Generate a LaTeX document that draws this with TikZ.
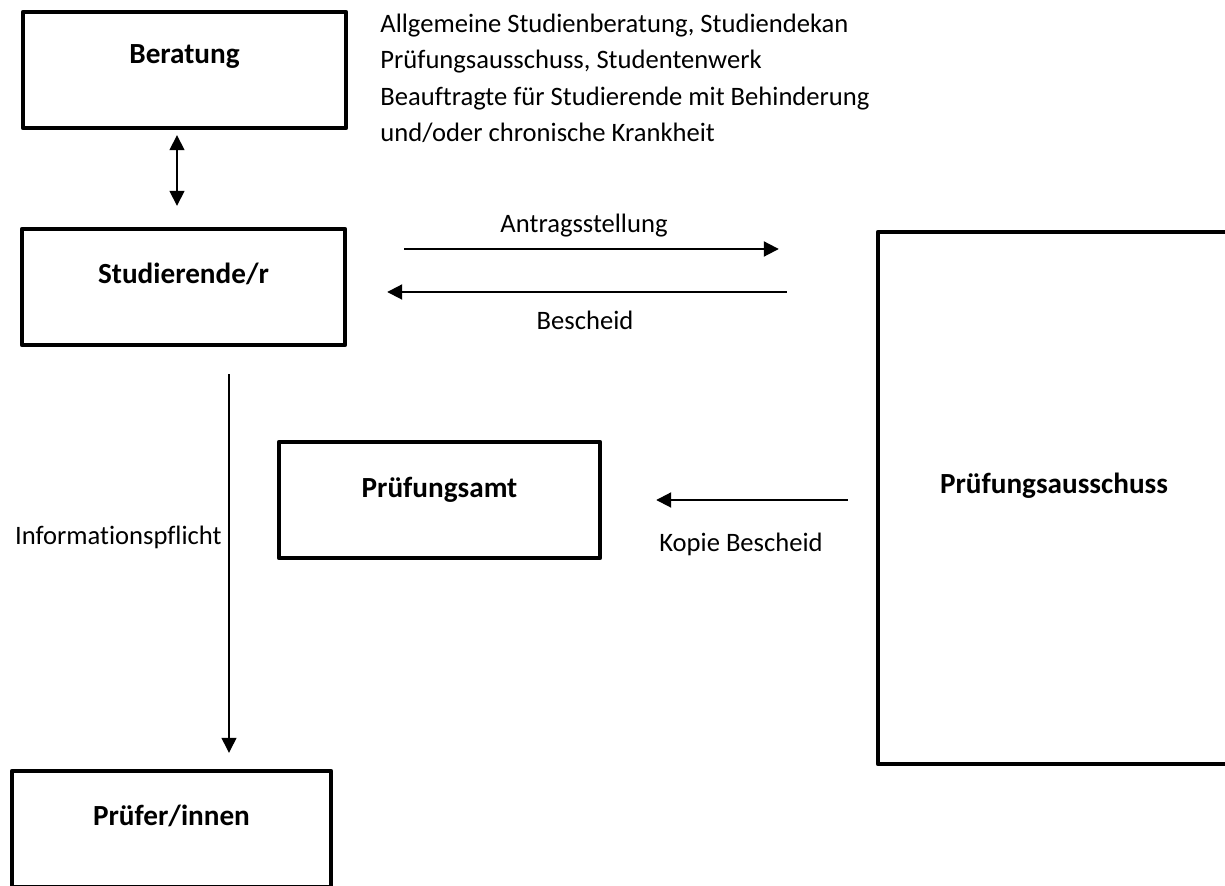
\documentclass[tikz,border=0pt]{standalone}
\usepackage{fontspec}
\setmainfont{Carlito}[Ligatures={NoCommon}]
\usetikzlibrary{arrows.meta, positioning, calc}

\tikzset{
  box/.style={draw, line width=2.2pt, line join=round, minimum height=58pt, inner sep=0pt,
    font=\fontsize{14.6}{17}\selectfont\bfseries},
  lbl/.style={font=\fontsize{13.3}{18.33}\selectfont, inner sep=0pt},
  arr/.style={-{Triangle[length=7.5pt,width=7.5pt]}, line width=1pt},
  dblarr/.style={{Triangle[length=7.5pt,width=7.5pt]}-{Triangle[length=7.5pt,width=7.5pt]}, line width=0.8pt},
}

\begin{document}
\begin{tikzpicture}[x=0.5pt, y=-0.5pt]
\useasboundingbox (0,0) rectangle (1225,886);
\clip (0,0) rectangle (1225,886);

% Boxes
\node[box, minimum width=161.5pt, text height=26pt, text depth=32pt] (beratung) at (184.5,70) {Beratung};
\node[box, minimum width=161.5pt, text height=27.5pt, text depth=30.5pt] (studierende) at (183.5,287) {Studierende/r};
\node[box, minimum width=160.5pt, text height=28pt, text depth=30pt] (amt) at (439.5,500) {Prüfungsamt};
\node[box, minimum width=159.5pt, text height=27pt, text depth=31pt] (pruefer) at (171.5,829) {Prüfer/innen};
\node[box, minimum width=176pt, minimum height=266pt, text height=131pt, text depth=135pt] (ausschuss) at (1054,498) {Prüfungsausschuss};

% Arrows
\draw[dblarr, shorten <=2.5pt, shorten >=10.5pt] ([xshift=-3.75pt]beratung.south) -- ([xshift=-3.75pt]beratung.south |- studierende.north);
\draw[arr, shorten <=28.5pt, shorten >=48.5pt] ([yshift=19pt]studierende.east) -- ([yshift=19pt]studierende.east -| ausschuss.west);
\draw[arr, shorten <=44.5pt, shorten >=20pt] ([yshift=-2.5pt]studierende.east -| ausschuss.west) -- ([yshift=-2.5pt]studierende.east);
\draw[arr, shorten <=14pt, shorten >=27pt] (amt.east -| ausschuss.west) -- (amt.east);
\draw[arr, line width=0.65pt, shorten <=13.5pt, shorten >=8pt] ([xshift=22.75pt]studierende.south) -- ([xshift=22.75pt]studierende.south |- pruefer.north);

% Labels
\node[lbl, anchor=base west, align=left] (stellen) at (380,142) {Allgemeine Studienberatung, Studiendekan\\Prüfungsausschuss, Studentenwerk\\Beauftragte für Studierende mit Behinderung\\und/oder chronische Krankheit};
\node[lbl, anchor=base] (antrag) at (584,233) {Antragsstellung};
\node[lbl, anchor=base] (bescheid) at (585,330) {Bescheid};
\node[lbl, anchor=base] (kopie) at (741,552) {Kopie Bescheid};
\node[lbl, anchor=base east] (info) at (222,545) {Informationspflicht};
\end{tikzpicture}
\end{document}
